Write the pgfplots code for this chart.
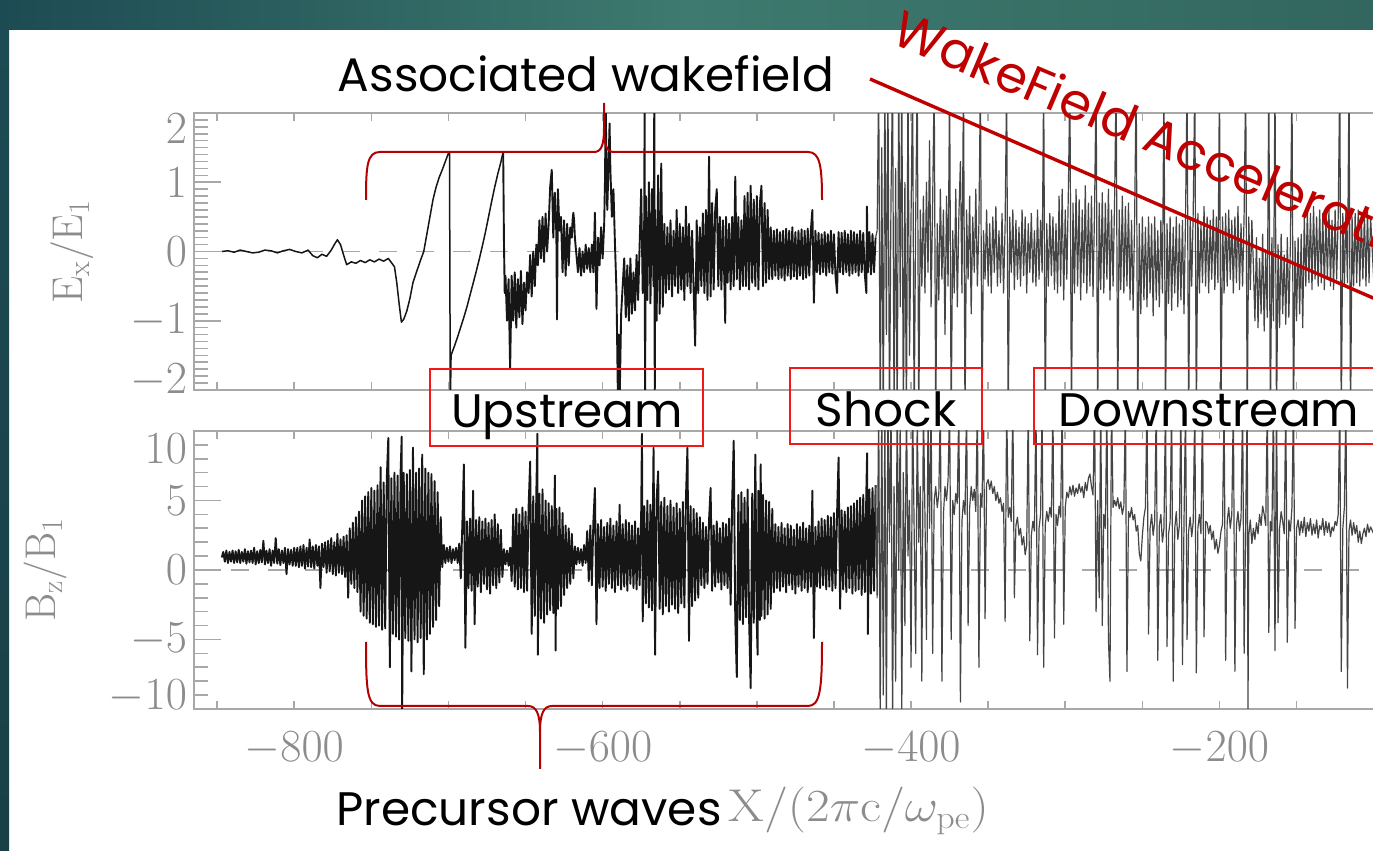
\RequirePackage{fix-cm}
\documentclass[border=0pt]{standalone}
\usepackage{fontspec}
\usepackage{pgfplots}
\pgfplotsset{compat=1.18}
\newfontfamily\gothic{Poppins}

\definecolor{framegray}{HTML}{A8A8A8}
\definecolor{labelgray}{HTML}{8C8C8C}
\definecolor{slideA}{HTML}{1D4B53}
\definecolor{slideB}{HTML}{3E7A6F}
\definecolor{slideC}{HTML}{32665E}
\definecolor{braceRed}{HTML}{B40000}
\definecolor{boxRed}{HTML}{F21818}
\definecolor{wakeRed}{HTML}{C00000}
\definecolor{trace}{HTML}{161616}

\newcommand\notefont{\fontsize{23.5}{28}\gothic}

\pgfplotsset{
  fieldaxis/.style={
    scale only axis, width=636.1pt,
    xmin=-865, xmax=-40,
    axis line style={framegray, line width=0.9pt},
    tick style={framegray, line width=0.8pt},
    major tick length=13.5pt, minor tick length=7pt,
    xtick style={/pgfplots/major tick length=4pt, /pgfplots/minor tick length=4pt},
    xtick={-800,-600,-400,-200,0},
    minor xtick={-850,-750,-700,-650,-550,-500,-450,-350,-300,-250,-150,-100,-50},
    tick label style={font=\fontsize{23}{23}\selectfont, text=labelgray},
    label style={font=\fontsize{21.5}{21.5}\selectfont, text=labelgray},
    xtick pos=both, ytick pos=both,
  },
  zeroline/.style={framegray, line width=0.6pt, dash pattern=on 9pt off 9.5pt},
  precursor/.style={trace, line width=0.95pt, line join=round},
  downstream/.style={trace!80, line width=0.6pt, line join=round},
}

\begin{document}
\begin{tikzpicture}
\useasboundingbox (0,0) rectangle (686.5pt,425.5pt);
\clip (0,0) rectangle (686.5pt,425.5pt);
\fill[white] (0,0) rectangle (686.5pt,425.5pt);

% slide frame
\begin{scope}[x=0.5pt, y=-0.5pt, yshift=425.5pt]
  \shade[left color=slideA, right color=slideC, middle color=slideB] (0,0) rectangle (1373,30);
  \shade[top color=slideA, bottom color=slideA!85!black] (0,30) rectangle (9,851);
\end{scope}

% ---- electric field E_x / E_1 ----
\begin{axis}[fieldaxis, at={(97pt,230.5pt)}, anchor=south west, height=138.5pt,
  ymin=-2, ymax=2, ytick={-2,-1,0,1,2}, yticklabels={,$-1$,$0$,$1$,},
  minor y tick num=9,
  extra y ticks={-1.86,1.78}, extra y tick labels={$-2$,$2$},
  extra y tick style={tick style={draw=none}},
  xticklabels={},
  ylabel={$\mathrm{E_x/E_1}$},
  ylabel style={at={(axis description cs:-0.0959,0.5)}, anchor=center},
]
\addplot[zeroline] coordinates {(-865,0) (-40,0)};
\addplot[precursor, line width=0.75pt] coordinates {
(-847,0)(-843,.01)(-839,-.01)(-835,.02)(-831,0)(-827,-.02)(-823,-.01)(-819,.02)(-815,.01)(-811,-.02)(-807,.01)(-803,.03)(-799,0)(-795,-.02)(-791,.02)(-788,-.06)(-785,-.09)(-782,-.04)(-779,-.07)(-776,.02)(-774,.1)(-772,.17)(-770,.1)(-768,-.05)(-766,-.19)(-763,-.15)(-760,-.17)(-757,-.13)(-754,-.16)(-751,-.12)(-748,-.15)(-745,-.11)(-742,-.14)(-739,-.1)(-737,-.16)(-735,-.22)(-733.5,-.45)(-732,-.75)(-730.5,-1.02)(-729,-.98)(-727,-.86)(-725,-.68)(-723,-.45)(-720,-.25)(-718,-.12)(-716,0)(-714,.25)(-712,.5)(-710,.75)(-708,.93)(-706,1.07)(-704,1.18)(-702,1.3)(-700,1.42)(-699.3,1.44)(-698.8,-2.3)(-698.3,-1.5)
(-696,-1.36)(-694,-1.23)(-692,-1.09)(-690,-.95)(-688,-.8)(-686,-.63)(-684,-.46)(-682,-.29)(-680,-.11)(-678,.08)(-676,.28)(-674,.5)(-672,.72)(-670,.93)(-668,1.12)(-666,1.29)(-664.5,1.44)
};
\addplot[precursor] coordinates {
(-664.5,1.44)(-664,.15)(-663.5,-.6)(-663,-.35)(-662,-1.0)(-661,-.4)(-660,-1.7)
(-659,-.35)(-658,-1.0)(-657,-.3)(-656,-1.1)(-655,-.4)(-654,-.95)(-653,-.28)(-652,-1.05)(-651,-.45)(-650,-.85)(-649,-.3)
(-648,-.6)(-647,-.05)(-646,-.65)(-645,0)(-644,-.5)(-643,.1)
(-642,-.2)(-641,.45)(-640,-.1)(-639,.5)(-638,-.15)(-637,.55)(-636,0)(-635,.4)(-634,.94)
(-633,1.18)(-632,.2)(-631,.85)(-630,.25)(-629.6,-.98)(-629,.9)(-628,.3)
(-627,.5)(-626,-.3)(-625,.45)(-624,-.35)(-623,.4)(-622,-.2)(-621,.35)
(-620,.2)(-619.5,.45)(-619,.56)(-618.5,.45)(-618,.2)(-617,-.05)
(-616,-.3)(-615,.05)(-614,-.35)(-613,0)(-612,-.3)(-611,.1)(-610,-.25)(-609,.05)(-608,-.3)
(-607,.1)(-606,-.3)(-605,.56)(-604,-.83)(-603,.2)(-602,-.2)(-601,.35)(-600,-.1)
(-599,.4)(-598.5,1.0)(-598,2.1)(-597.5,1.2)(-597,.6)(-596,1.4)(-595.5,1.85)(-595,1.2)(-594,.5)(-593,.9)(-592,.1)
(-591,-.6)(-590,-2.3)(-589.5,-1.2)(-589,-2.2)(-588,-.9)(-587,-.5)
(-586,-.1)(-585,-.95)(-584,-.2)(-583,-1.0)(-582,-.1)(-581,-.9)(-580,-.3)(-579,-.85)(-578,-.05)(-577,-.7)(-576,.1)
(-575,.9)(-574,-.6)(-573,.5)(-572.8,2.3)(-572.5,-2.3)(-572,.8)(-571,-.7)(-570,1.0)(-569,-.75)(-568,.9)(-567,-.5)(-566.5,2.3)(-566.2,-2.3)(-566,.6)
(-565,-1.0)(-564,1.1)(-563,-.9)(-562,1.27)(-561,-.8)
(-560,.4)(-559,-.6)(-558,.35)(-557,-.55)(-556,.45)(-555,-.65)(-554,.3)(-553,-.5)(-552,.6)(-551,-.6)(-550,.4)(-549,-.55)(-548,.35)(-547,-.7)(-546,.65)(-545,-.5)(-544,.4)(-543,-.6)(-542,.3)(-541,-.55)(-540,-1.36)(-539,.45)(-538,-.6)(-537,.35)(-536,-.5)(-535,.55)
(-534,-.6)(-533,.6)(-532,-.7)(-531,1.37)(-530,-.65)(-529,.7)(-528,-.55)(-527,.6)
(-526,.9)(-525,-.5)(-524,.5)(-523,-.55)(-522,.45)(-521,-.5)(-520.5,-1.03)(-520,.5)(-519,-.45)(-518,.4)(-517,-.55)(-516,.5)(-515,-.5)(-514,1.08)(-513,-.4)(-512,.5)(-511,-.55)(-510,.45)(-509,-.5)
(-508,.8)(-507,-.5)(-506,.85)(-505,-.55)(-504,.95)(-503,-.45)(-502,.75)(-501,-.5)(-500,.8)(-499,-.55)(-498,.7)(-497,.95)(-496,-.5)(-495,.7)(-494,-.45)(-493,.6)(-492,-.4)
(-491,.35)(-490,-.4)(-489,.3)(-488,-.35)(-487,.32)(-486,-.4)(-485,.28)(-484,-.38)(-483,.3)(-482,-.42)(-481,.33)(-480,-.35)(-479,.3)(-478,-.4)(-477,.35)(-476,-.36)(-475,.28)(-474,-.4)(-473,.3)(-472,-.35)(-471,.32)(-470,-.4)(-469,.3)(-468,-.38)(-467,.33)(-466,-.35)(-465,.3)(-464,.6)(-463,-.74)(-462,.3)
(-461,-.3)(-460,.27)(-459,-.33)(-458,.25)(-457,-.3)(-456,.28)(-455,-.35)(-454,.25)(-453,-.3)(-452,.3)(-451,-.32)(-450,.25)(-449,-.35)(-448,-.6)(-447,.28)(-446,-.3)(-445,.27)(-444,-.33)(-443,.3)(-442,-.3)(-441,.25)(-440,-.35)(-439,.3)(-438,-.32)(-437,.28)(-436,-.3)(-435,.25)(-434,-.35)(-433,.3)(-432,-.3)(-431,.27)(-430,-.32)(-429,-.6)(-428.6,.65)(-428,-.3)(-427,.28)(-426,-.33)(-425,.25)(-424,-.3)(-423,.2)
};
\addplot[downstream] coordinates {
(-423,.2)(-422,.3)(-421,2.5)(-420,-2.5)(-419,1.5)(-418,-2.5)(-417,2.5)(-416,-1.2)(-415,2.5)(-414,-2.5)(-413,.8)(-412,2.5)(-411,-2.5)(-410,1.2)(-409,-2.5)(-408,2.5)(-407,-.8)(-406,2.5)(-405,-2.5)(-404,1.0)(-403,-2.5)(-402,2.5)(-401,-1.5)(-400,.5)(-399,2.5)(-398,-2.5)
(-397,.5)(-396,2.5)(-395,-2.5)(-394,.6)(-393,-.5)(-392,.8)(-391,-.6)(-390,1.0)(-389,-.3)(-388,1.6)(-387,-.8)(-386,.7)(-385,2.5)(-384,-2.5)(-383,.4)(-382,-.7)(-381,.9)(-380,-.4)(-379,.6)(-378,-1.2)(-377,.8)(-376,-.5)(-375,2.5)(-374,-2.5)(-373,.3)(-372,-.6)(-371,.9)(-370,-.8)(-369,.5)(-368,1.3)(-367,-.6)(-366,2.5)(-365,-2.5)(-364,.6)(-363,-.4)(-362,.8)(-361,-.9)(-360,.5)(-359,-.3)(-358,.9)(-357,-.5)(-356,.4)(-355,2.5)
(-354,-2.5)(-353,.3)(-352,-.4)(-351,.6)(-350,-.5)(-349,.4)(-348,-.6)(-347,.5)(-346,-.3)(-345,.65)(-344,-.5)(-343,.3)(-342,-.45)(-341,.55)(-340,-.6)(-339,.4)(-338,2.5)(-337,-2.5)(-336,.5)(-335,-.3)(-334,.6)(-333,-.55)(-332,.45)(-331,-.4)(-330,.35)(-329,-.5)(-328,.6)(-327,-.35)(-326,.5)(-325,-.6)(-324,.4)(-323,-.3)(-322,.55)(-321,-.45)(-320,.3)(-319,-.5)(-318,.6)(-317,-.4)(-316,.45)(-315,-.3)(-314,2.5)(-313,-2.5)(-312,.4)(-311,-.5)(-310,.55)(-309,-.35)(-308,.5)(-307,-.55)(-306,.4)
(-305,-.6)(-304,.8)(-303,-.5)(-302,.9)(-301,-.7)(-300,.6)(-299,-.4)(-298,.85)(-297,2.5)(-296,-2.5)(-295,.7)(-294,-.6)(-293,.9)(-292,-.5)(-291,.75)(-290,-.7)(-289,.6)(-288,-.45)(-287,.95)(-286,-.6)(-285,.7)(-284,-.5)(-283,.8)(-282,-.65)(-281,.6)(-280,2.5)(-279,-2.5)(-278,.7)(-277,-.55)(-276,.85)(-275,-.6)(-274,.7)(-273,-.4)(-272,.9)(-271,-.7)(-270,.6)(-269,-.5)(-268,.75)(-267,2.5)(-266,-2.5)(-265,.6)(-264,-.55)(-263,.8)(-262,-.6)(-261,.65)(-260,-.5)(-259,.7)
(-258,-.7)(-257,.45)(-256,-.85)(-255,.5)(-254,2.5)(-253,-2.5)(-252,.4)(-251,-.9)(-250,.5)(-249,-.7)(-248,.35)(-247,-.8)(-246,.5)(-245,-.6)(-244,.4)(-243,-.93)(-242,.5)(-241,-.7)(-240,.3)(-239,-.8)(-238,.45)(-237,-.6)(-236,2.5)(-235,-2.5)(-234,.4)(-233,-.75)(-232,.5)(-231,-.85)(-230,.35)(-229,-.6)(-228,.5)(-227,-.8)(-226,.4)(-225,-.7)(-224,.45)(-223,-.9)(-222,.5)(-221,2.5)(-220,-2.5)
(-219,.5)(-218,-.5)(-217,.6)(-216,2.5)(-215,-2.5)(-214,.55)(-213,-.6)(-212,.4)(-211,-.45)(-210,.65)(-209,-.5)(-208,.5)(-207,-.6)(-206,.45)(-205,-.4)(-204,.6)(-203,-.55)(-202,.5)(-201,-.45)(-200,2.5)(-199,-2.5)(-198,.5)(-197,-.6)(-196,.55)(-195,-.5)(-194,.6)(-193,-.4)(-192,.45)(-191,-.6)(-190,.5)(-189,-.45)(-188,.65)(-187,-.55)(-186,.4)(-185,-.5)(-184,.55)(-183,2.5)(-182,-2.5)(-181,.5)(-180,-.55)(-179,.45)
(-178,-.2)(-177,-1.0)(-176,.2)(-175,-1.1)(-174,-.1)(-173,-.9)(-172,.25)(-171,-1.15)(-170,0)(-169,-.95)(-168,2.5)(-167,-2.5)(-166,.2)(-165,-1.0)(-164,2.5)(-163,-2.5)(-162,.1)(-161,-1.1)(-160,.25)(-159,-.9)(-158,-.05)(-157,-1.05)(-156,.2)(-155,-.95)(-154,.1)(-153,2.5)(-152,-2.5)(-151,.15)(-150,-1.0)(-149,.2)(-148,-.9)(-147,.25)(-146,-1.1)
(-145,.5)(-144,-.5)(-143,.6)(-142,-.45)(-141,.55)(-140,-.55)(-139,.65)(-138,-.4)(-137,.5)(-136,-.5)(-135,.6)(-134,-.45)(-133,.55)(-132,-.55)(-131,.5)(-130,-.4)(-129,.6)(-128,-.5)(-127,.45)(-126,-.55)(-125,.6)(-124,-.4)(-123,.5)(-122,2.5)(-121,-2.5)(-120,.55)(-119,-.5)(-118,.6)(-117,-.45)(-116,2.5)(-115,-2.5)(-114,.5)(-113,-.5)(-112,.55)(-111,-.45)(-110,.6)(-109,-.5)(-108,.5)(-107,-.4)(-106,.55)(-105,-.5)(-104,.6)(-103,-.45)(-102,.5)(-100,-.4)(-98,.5)(-95,-.3)
};
\end{axis}

% ---- magnetic field B_z / B_1 ----
\begin{axis}[fieldaxis, at={(97pt,71pt)}, anchor=south west, height=139pt,
  ymin=-10, ymax=10, ytick={-10,-5,0,5,10}, yticklabels={,$-5$,$0$,$5$,},
  minor y tick num=4,
  extra y ticks={-9.14,8.7}, extra y tick labels={$-10$,$10$},
  extra y tick style={tick style={draw=none}},
  xticklabels={$-800$,$-600$,$-400$,$-200$,$0$},
  xticklabel style={yshift=-8pt},
  ylabel={$\mathrm{B_z/B_1}$},
  ylabel style={at={(axis description cs:-0.1171,0.5)}, anchor=center},
  xlabel={$\mathrm{X}/(2\pi\mathrm{c}/\omega_{\mathrm{pe}})$},
  xlabel style={at={(axis description cs:0.5225,0)}, anchor=base, yshift=-56.5pt, xscale=1.12, font=\fontsize{23}{23}\selectfont},
]
\addplot[zeroline] coordinates {(-865,0) (-40,0)};
\addplot[precursor] coordinates {
(-847,.9)(-846,1.3)(-845,.6)(-844,1.4)(-843,.5)(-842,1.3)(-841,.6)(-840,1.4)(-839,.5)(-838,1.35)(-837,.55)(-836,1.45)(-835,.5)(-834,1.3)(-833,.6)(-832,1.5)(-831,.45)(-830,1.35)(-829,.55)(-828,1.4)(-827,.5)(-826,1.6)(-825,.4)(-824,1.35)(-823,.5)(-822,1.45)(-821,.55)(-820,2.1)(-819,.4)(-818,1.4)(-817,.5)(-816,1.5)(-815,.3)(-814,1.4)(-813,.5)(-812,2.3)(-811,.45)(-810,1.5)(-809,.35)(-808,1.4)(-807,.5)(-806,1.6)(-805,-.3)(-804,1.5)(-803,.4)(-802,1.45)(-801,.3)(-800,1.6)
(-799,.3)(-798,1.6)(-797,.2)(-796,1.7)(-795,.3)(-794,1.8)(-793,.1)(-792,1.6)(-791,.25)(-790,2.2)(-789,.2)(-788,1.7)(-787,.1)(-786,1.8)(-785,.3)(-784,1.7)(-783,-1.3)(-782,1.9)(-781,.2)
(-780,2.0)(-779,-.2)(-778,2.1)(-777,-.1)(-776,2.3)(-775,-.3)(-774,2.0)(-773,-.4)(-772,2.6)(-771,-.2)(-770,2.2)(-769,-.3)(-768,2.4)(-767,-.5)(-766,2.5)(-765,-2.0)
(-764,3.0)(-763,-1.0)(-762,3.4)(-761,-1.3)(-760,3.8)(-759,-1.6)(-758,4.2)
(-757,-3.0)(-756,5.0)(-755,-3.3)(-754,5.3)(-753,-3.5)(-752,5.6)(-751,-3.8)(-750,5.9)(-749,-3.9)(-748,5.7)(-747,-4.1)(-746,6.1)(-745,-4.0)(-744,7.4)(-743,-4.3)(-742,6.3)(-741,-4.2)(-740,6.5)(-739,9.5)(-738,-7.0)(-737,6.6)(-736,-4.6)(-735,7.0)(-734,-4.8)(-733,6.8)(-732,-5.0)(-731,7.1)(-730.3,9.6)(-730,-10.3)(-729,7.0)(-728,-4.9)(-727,6.9)(-726,-5.1)(-725,7.2)(-724,-7.3)(-723,8.8)(-722,-5.0)(-721,7.0)(-720,-5.2)(-719,7.3)(-718,-4.9)(-717,8.3)(-716,-7.5)(-715,7.3)(-714,-5.0)(-713,7.0)(-712,-4.6)(-711,6.9)(-710,-4.1)(-709,6.4)(-708,-3.6)(-707,5.6)(-706,-2.6)(-705,3.8)
(-704,.2)(-703,1.8)(-702,.5)(-701,1.6)(-700,.6)(-699,1.7)(-698,.5)(-697,1.5)(-696,.7)(-695,1.6)(-694,.5)(-693,1.9)
(-692,-.6)(-691,3.2)(-690,7.6)(-689,-5.6)(-688,3.5)(-687,-1.3)(-686,3.7)(-685,-1.5)(-684,5.7)(-683,-3.9)(-682,3.6)(-681,-1.2)(-680,3.8)(-679,-1.6)(-678,3.5)(-677,-1.0)(-676,3.7)(-675,-1.4)(-674,3.4)(-673,-1.7)(-672,3.6)(-671,-1.1)(-670,4.0)(-669,-1.3)(-668,3.3)(-667,-.9)(-666,2.9)(-665,-.5)
(-664,1.5)(-663,.4)(-662,1.4)(-661,.3)(-660,1.6)
(-659,-.8)(-658,4.0)(-657,-1.2)(-656,4.4)(-655,-1.4)(-654,4.0)(-653,-1.3)(-652,4.5)(-651,-1.6)(-650,4.2)(-649,-1.5)(-648,4.6)(-647,7.8)(-646,-4.6)(-645,5.3)(-644,-3.3)(-643,5.6)(-642.3,9.8)(-642,-6.1)(-641,5.5)(-640,-3.5)(-639,5.8)(-638,-3.8)(-637,5.0)(-636,-3.2)(-635,4.8)(-634,-2.9)(-633,4.6)(-632,-3.1)(-631,6.8)(-630.5,-5.8)(-630,4.4)(-629,-2.8)(-628,4.5)(-627,-2.6)(-626,4.1)(-625,-1.8)(-624,3.2)(-623,-1.3)(-622,3.0)(-621,-1.0)(-620,2.6)(-619,-.6)
(-618,1.7)(-617,.4)(-616,1.6)(-615,.5)(-614,1.5)(-613,.3)(-612,1.8)(-611,.5)
(-610,2.8)(-609,-.8)(-608,3.2)(-607,-1.1)(-606,3.5)(-605,5.9)(-604,-3.9)(-603,3.3)(-602,-1.3)(-601,3.6)(-600,-1.2)(-599,3.1)(-598,-1.5)(-597,3.4)(-596,-1.0)(-595,3.7)(-594,-1.3)(-593,3.2)(-592,-1.6)(-591,3.5)(-590,-1.1)(-589,4.7)(-588,-1.4)(-587,3.3)(-586,-1.2)(-585,3.6)(-584,-1.5)(-583,3.4)(-582,-1.0)(-581,3.2)(-580,-1.3)(-579,3.5)(-578,-1.4)(-577,3.0)(-576,-1.1)
(-575,4.2)(-574.5,9.8)(-574,-3.7)(-573,4.6)(-572,-2.4)(-571,5.0)(-570,-2.7)(-569,4.7)(-568,-2.9)(-567,8.8)(-566,-6.1)(-565,5.1)(-564,7.1)(-563,-2.8)(-562,4.9)(-561,-3.2)(-560,5.2)(-559,-2.6)(-558,4.6)(-557,-3.0)(-556,5.0)(-555,-2.5)(-554,4.5)(-553,-2.8)(-552,4.8)(-551,-3.1)(-550,4.4)(-549,-2.4)(-548,4.9)(-547,-2.7)(-546,5.1)(-545,8.8)(-544,-5.1)(-543,4.6)(-542,-2.6)(-541,4.4)(-540,-2.2)(-539,4.1)(-538,-2.0)(-537,3.8)
(-536,-1.1)(-535,3.4)(-534,-1.3)(-533,3.1)(-532,-1.0)(-531,3.6)(-530,5.9)(-529,-1.5)(-528,3.2)(-527,-1.2)(-526,3.5)(-525,-.9)(-524,3.0)(-523,-1.4)(-522,3.4)(-521,-1.1)(-520,3.3)(-519,-1.3)(-518,3.7)
(-517,-2.5)(-516,5.0)(-515,9.3)(-514,-3.5)(-513,-7.7)(-512,5.4)(-511,-3.6)(-510,5.6)(-509,-3.9)(-508,5.2)(-507,-3.4)(-506,5.8)(-505,-3.7)(-504,-8.5)(-503,5.5)(-502,-3.8)(-501,8.3)(-500,-4.0)(-499.5,-6.1)(-499,5.7)(-498,-3.6)(-497.5,7.6)(-497,-3.3)(-496,5.4)(-495,-3.5)(-494,5.0)(-493,-3.2)(-492,4.9)(-491,-2.8)(-490,4.4)
(-489,-1.6)(-488,3.3)(-487,-1.3)(-486,3.1)(-485,-1.5)(-484,3.4)(-483,-1.2)(-482,3.0)(-481,-1.6)(-480,3.3)(-479,-1.1)(-478,3.2)(-477,-1.4)(-476,2.9)(-475,-1.7)(-474,3.3)(-473,-1.2)(-472,3.1)(-471,-1.5)(-470,3.4)(-469,-1.3)(-468,3.0)(-467,-1.6)(-466,3.2)(-465,-1.2)(-464,5.7)(-463,-4.9)(-462,3.1)
(-461,-1.2)(-460,3.5)(-459,-1.3)(-458,3.7)(-457,-1.1)(-456,3.6)(-455,-1.4)(-454,3.9)(-453,-1.2)(-452,3.8)(-451,-1.5)(-450,4.1)(-449,-1.3)(-448,4.0)(-447,8.1)(-446,-2.8)(-445,4.3)(-444,-1.4)(-443,4.2)(-442,-1.6)(-441,4.5)(-440,-1.3)(-439,4.6)(-438,-1.7)(-437,4.8)(-436,-1.5)(-435,5.0)(-434,-1.4)(-433,5.2)(-432,-1.8)(-431,5.4)(-430,-1.6)(-429,5.6)(-428.5,8.4)(-428,-4.6)(-427,5.8)(-426,-1.7)(-425,5.9)(-424,-1.5)(-423,6.1)
};
\addplot[downstream] coordinates {
(-423,6.1)(-422,-2)(-421,12)(-420,-11)(-419,12)(-418,-9)(-417,11)(-416,-11)(-415,12)(-414,2)(-413,12)(-412,-11)(-411,6)(-410,-8)(-409,12)(-408,0)(-407,11)(-406,-10)(-405,7)(-404,-4)(-403,12)(-402,1)(-401,5)(-400,-7)(-399,12)(-398,3)(-397,-6)(-396,11)(-395,2)(-394,6)(-393,-8)(-392,12)(-391,4)(-390,-5)(-389,11)(-388,3)
(-387,12)(-386,-6)(-385,5)(-384,6)(-383,4.5)(-382,5.5)(-381,12)(-380,-8)(-379,4)(-378,6)(-377,5)(-376,6.5)(-375,12)(-374,-5)(-373,5)(-372,4)(-371,5.5)(-370,4.8)(-369,12)(-368,-9.5)(-367,3.5)(-366,5)(-365,4)(-364,12)(-363,-4)(-362,4.5)(-361,6)(-360,5)(-359,5.8)(-358,4.2)(-357,12)(-356,-7)(-355,5.5)(-354,4.5)(-353,12)(-352,-3.5)(-351,6.2)
(-350,6.5)(-349,5.8)(-348,6.4)(-347,5.5)(-346,6.0)(-345,5.0)(-344,5.6)(-343,4.8)(-342,5.2)(-341,4.2)(-340,4.8)(-339,-3.7)(-338,12)(-337,3.8)(-336,4.5)(-335,3.5)(-334,12)(-333,-2)(-332,3.2)(-331,3.8)(-330,2.5)(-329,3.0)(-328,1.8)(-327,2.4)(-326,1.1)(-325,1.8)
(-324,12)(-323,-5.1)(-322,2.5)(-321,3.5)(-320,2.8)(-319,12)(-318,-6.1)(-317,3.0)(-316,4.0)(-315,12)(-314,-7.0)(-313,3.2)(-312,4.2)(-311,3.5)(-310,4.5)(-309,3.8)(-308,12)(-307,-4.9)(-306,4.0)(-305,3.2)(-304,4.6)(-303,3.8)(-302,12)(-301,-3.9)(-300,4.5)
(-299,5.6)(-298,5.2)(-297,6.0)(-296,5.4)(-295,6.1)(-294,5.3)(-293,5.9)(-292,5.5)(-291,6.2)(-290,5.6)(-289,6.0)(-288,5.2)(-287,6.3)(-286,5.7)(-285,6.6)(-284,6.9)(-283,6.0)(-282,5.4)
(-281,12)(-280,-3)(-279,5)(-278,-2)(-277,12)(-276,-4)(-275,4)(-274,3)(-273,12)(-272,-5)(-271,-8)(-270,12)(-269,4.5)
(-268,5.0)(-267,4.6)(-266,5.2)(-265,4.4)(-264,4.9)(-263,4.0)(-262,4.6)(-261,12)(-260,-7.3)(-259,4.2)(-258,3.8)(-257,4.5)(-256,3.6)(-255,4.0)(-254,2.8)(-253,3.2)(-252,1.2)(-251,.65)(-250,2.5)(-249,3.8)(-248,4.5)
(-247,12)(-246,-4.6)(-245,3.0)(-244,4.0)(-243,2.5)(-242,3.5)(-241,12)(-240,-6.5)(-239,3.2)(-238,4.0)(-237,2.0)(-236,3.0)(-235,12)(-234,-5.5)(-233,2.6)(-232,3.5)(-231,12)(-230,-8.0)(-229,3.0)(-228,4.2)(-227,2.2)(-226,3.2)(-225,12)(-224,-6.8)(-223,3.4)(-222,12)(-221,-5.0)(-220,2.8)(-219,3.8)(-218,2.4)(-217,3.5)(-216,12)(-215,-7.4)(-214,3.0)(-213,4.0)(-212,2.6)(-211,12)(-210,-4.8)(-209,3.5)
(-208,3.4)(-207,2.6)(-206,3.2)(-205,2.2)(-204,2.8)(-203,1.5)(-202,2.2)(-201,1.2)(-200,1.8)(-199,2.8)(-198,3.3)
(-197,12)(-196,-6.5)(-195,3.5)(-194,4.5)(-193,3.0)(-192,4.0)(-191,12)(-190,-7.3)(-189,3.2)(-188,4.2)(-187,2.8)(-186,3.8)(-185,12)(-184,-6.0)(-183,3.5)(-182,12)(-181.5,-10.5)(-181,2.5)(-180,3.6)(-179,1.9)(-178,3.0)(-177,2.2)(-176,3.4)(-175,2.6)(-174,4.0)(-173,3.2)(-172,4.6)
(-171,4.0)(-170,3.2)(-169,12)(-168,-4.5)(-167,3.5)(-166,2.8)(-165,12)(-164,-5.8)(-163,12)(-162,-3.8)(-161,3.0)(-160,4.2)(-159,3.5)(-158,2.6)(-157,12)(-156,-5.2)(-155,3.6)(-154,2.8)(-153,4.5)(-152,12)(-151,-4.2)
(-150,3.0)(-149,3.6)(-148,2.5)(-147,3.5)(-146,2.7)(-145,3.8)(-144,2.4)(-143,3.4)(-142,2.8)(-141,3.7)(-140,2.5)(-139,3.3)(-138,2.6)(-137,3.6)(-136,2.3)(-135,3.2)(-134,2.9)(-133,3.7)(-132,2.5)(-131,3.5)(-130,2.7)(-129,3.4)(-128,2.4)(-127,3.1)(-126,2.8)(-125,3.5)
(-124,3.2)(-123,4.0)(-122,12)(-121,-7.3)(-120,3.0)(-119,4.5)(-118,12)(-117,-8.5)(-116,2.8)(-115,3.6)(-114,2.5)
(-113,3.4)(-112,2.6)(-111,3.2)(-110,2.0)(-109,2.8)(-108,1.9)(-107,2.6)(-106,3.0)(-105,2.4)(-104,3.3)(-103,2.7)(-102,3.1)(-100,2.6)(-98,3.0)(-95,2.8)
};
\end{axis}

% annotations on the slide
\begin{scope}[x=0.5pt, y=-0.5pt, yshift=425.5pt]
  % brace over the upstream electric field
  \draw[braceRed, line width=1pt] (366,200) .. controls (366,166) and (367,152) .. (380,152) -- (594,152) .. controls (601,152) and (604,146) .. (604,128) -- (604,103);
  \draw[braceRed, line width=1pt] (604,128) .. controls (604,146) and (607,152) .. (614,152) -- (808,152) .. controls (820,152) and (822,166) .. (822,200);
  % brace under the upstream magnetic field
  \draw[braceRed, line width=1pt] (366,642) .. controls (366,690) and (367,706) .. (380,706) -- (528,706) .. controls (536,706) and (540,713) .. (540,732) -- (540,769);
  \draw[braceRed, line width=1pt] (540,732) .. controls (540,713) and (544,706) .. (552,706) -- (808,706) .. controls (820,706) and (822,690) .. (822,642);
  % region boxes
  \draw[boxRed, line width=1pt] (430,369) rectangle (703,446);
  \draw[boxRed, line width=1pt] (790,368) rectangle (982,444);
  \draw[boxRed, line width=1pt] (1034,368) rectangle (1420,444);
  \node[anchor=base, font=\notefont, text=black] at (567,428) {Upstream};
  \node[anchor=base, font=\notefont, text=black] at (886,427) {Shock};
  \node[anchor=base, font=\notefont, text=black] at (1209,427) {Downstream};
  \node[anchor=base, font=\notefont, text=black] at (586,92) {Associated wakefield};
  \node[anchor=base, font=\notefont, text=black] at (529,826) {Precursor waves};
  % wakefield acceleration label
  \draw[wakeRed, line width=1.7pt] (870,79) -- (1380,301);
  \node[anchor=base west, rotate=-23, font=\fontsize{25.5}{30}\gothic, text=wakeRed, inner sep=0pt] at (889,42) {WakeField Acceleration};
\end{scope}
\end{tikzpicture}
\end{document}
